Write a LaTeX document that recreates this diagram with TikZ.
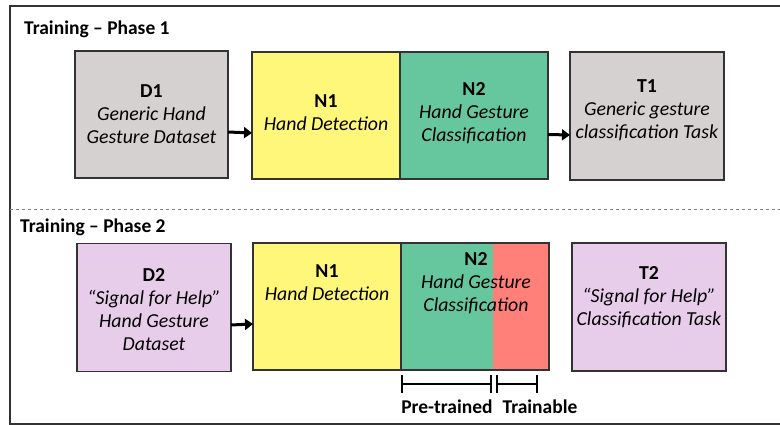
\documentclass[tikz,border=0pt]{standalone}
\usepackage{fontspec}
\setmainfont{Carlito}
\usetikzlibrary{arrows.meta}
\definecolor{boxgray}{HTML}{D6D1D1}
\definecolor{nyellow}{HTML}{FFF77A}
\definecolor{ngreen}{HTML}{66C69E}
\definecolor{nred}{HTML}{FF8078}
\definecolor{npurple}{HTML}{E8CDEB}
\definecolor{edge}{HTML}{333333}
\tikzset{
  blk/.style={draw=edge, line width=1.2pt, inner sep=0pt, outer sep=0pt},
  txt/.style={align=center, inner sep=0pt, font=\fontsize{19.8}{23}\selectfont},
  ttl/.style={anchor=west, inner sep=0pt, font=\fontsize{19.5}{21}\selectfont\bfseries},
  flow/.style={line width=3pt, -{Triangle[length=8pt,width=11pt]}},
  span/.style={line width=2.2pt, {Bar[width=18pt]}-{Bar[width=18pt]}},
  frame/.style={line width=1.3pt, draw=edge},
}
\begin{document}
\begin{tikzpicture}[x=1pt,y=-1pt]
\useasboundingbox (0,0) rectangle (780,425);
% outer frame
\draw[frame] (780,6) -- (10,6) -- (10,424) -- (780,424);
\draw[gray, dashed, line width=0.6pt] (10,209) -- (780,209);

% Phase 1
\node[ttl] (title1) at (24,29) {Training – Phase 1};
\node[blk, fill=boxgray, minimum width=153pt, minimum height=127pt] (d1) at (151.5,114.5) {};
\node[blk, fill=nyellow, minimum width=148pt, minimum height=127pt] (n1) at (326,115.5) {};
\node[blk, fill=ngreen, minimum width=148pt, minimum height=127pt] (n2) at (474,115.5) {};
\node[blk, fill=boxgray, minimum width=154pt, minimum height=128pt] (t1) at (647,116) {};
\node[txt] (d1t) at (151.5,114) {\textbf{D1}\\\textit{Generic Hand}\\\textit{Gesture Dataset}};
\node[txt] (n1t) at (326,113) {\textbf{N1}\\\textit{Hand Detection}};
\node[txt] (n2t) at (474,113) {\textbf{N2}\\\textit{Hand Gesture}\\\textit{Classification}};
\node[txt] (t1t) at (647,110) {\textbf{T1}\\\textit{Generic gesture}\\\textit{classification Task}};
\draw[flow] ([yshift=-17.5pt]d1.east) -- ([yshift=-17.5pt]n1.west);
\draw[flow] ([yshift=-19pt]n2.east) -- ([yshift=-19pt]t1.west);

% Phase 2
\node[ttl] (title2) at (20,227) {Training – Phase 2};
\node[blk, fill=npurple, minimum width=154pt, minimum height=128pt] (d2) at (154,307.5) {};
\node[blk, fill=nyellow, minimum width=148pt, minimum height=127pt] (n1b) at (327,306.5) {};
\node[blk, fill=ngreen, minimum width=148pt, minimum height=127pt,
  path picture={\fill[nred] ([xshift=-56pt]path picture bounding box.north east) rectangle (path picture bounding box.south east);}] (n2b) at (475,306.5) {};
\node[blk, fill=npurple, minimum width=154pt, minimum height=128pt] (t2) at (649,307) {};
\node[txt] (d2t) at (154,309.5) {\textbf{D2}\\\textit{“Signal for Help”}\\\textit{Hand Gesture}\\\textit{Dataset}};
\node[txt] (n1bt) at (327,282.5) {\textbf{N1}\\\textit{Hand Detection}};
\node[txt] (n2bt) at (476,283.5) {\textbf{N2}\\\textit{Hand Gesture}\\\textit{Classification}};
\node[txt] (t2t) at (649,297.5) {\textbf{T2}\\\textit{“Signal for Help”}\\\textit{Classification Task}};
\draw[flow] ([yshift=-17.5pt]d2.east) -- ([yshift=-17.5pt]n1b.west);

% brackets
\coordinate (p0) at (401,384);
\coordinate (p1) at (492,384);
\coordinate (q0) at (496,384);
\coordinate (q1) at (538,384);
\draw[span] (p0) -- (p1);
\draw[span] (q0) -- (q1);
\node[inner sep=0pt, font=\fontsize{19.5}{21}\selectfont\bfseries] (pre) at (447,407) {Pre-trained};
\node[inner sep=0pt, font=\fontsize{19.5}{21}\selectfont\bfseries] (trn) at (540,407) {Trainable};
\end{tikzpicture}
\end{document}
